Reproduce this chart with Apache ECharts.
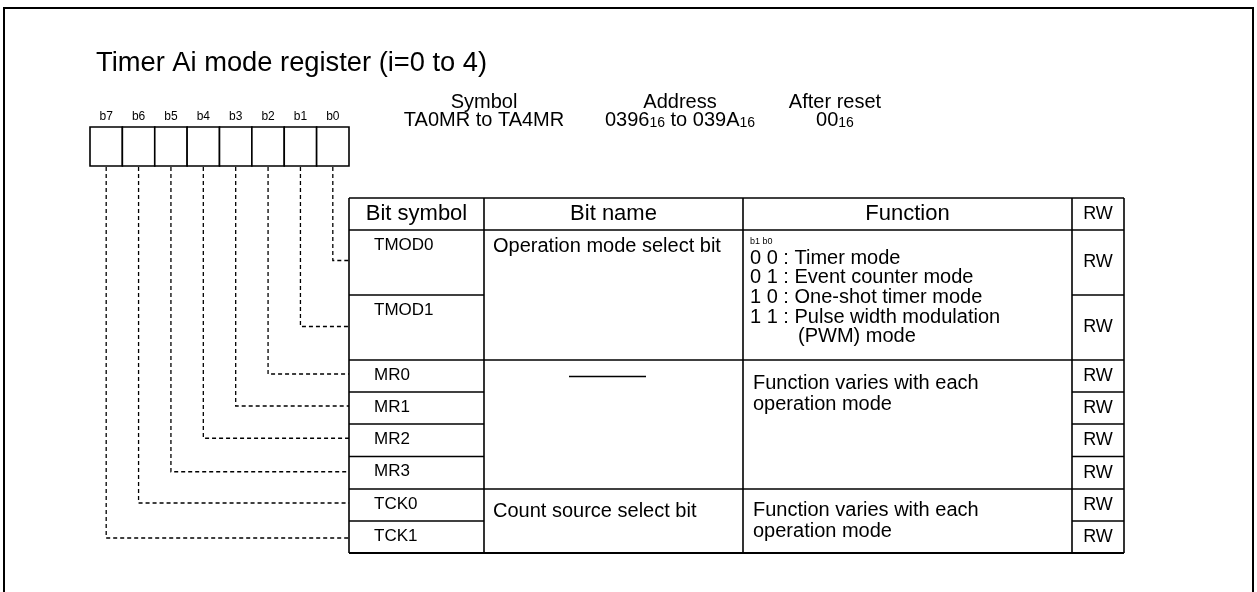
<!DOCTYPE html>
<html><head><meta charset="utf-8">
<script src="https://cdn.jsdelivr.net/npm/echarts@6/dist/echarts.min.js"></script>
<style>html,body{margin:0;padding:0;background:#fff}#c{width:1257px;height:592px}</style>
</head><body><div id="c"></div>
<script>
// ---------- content ----------
const titleText = 'Timer Ai mode register (i=0 to 4)';
const bitLabels = ['b7', 'b6', 'b5', 'b4', 'b3', 'b2', 'b1', 'b0'];
const infoHeaders = ['Symbol', 'Address', 'After reset'];
const infoValues = [
  [['TA0MR to TA4MR', 'n']],
  [['0396', 'n'], ['16', 's'], [' to 039A', 'n'], ['16', 's']],
  [['00', 'n'], ['16', 's']]
];
const headerTexts = ['Bit symbol', 'Bit name', 'Function', 'RW'];
const bitSymbols = ['TMOD0', 'TMOD1', 'MR0', 'MR1', 'MR2', 'MR3', 'TCK0', 'TCK1'];
const rwFlags = ['RW', 'RW', 'RW', 'RW', 'RW', 'RW', 'RW', 'RW'];
const groupSpans = [2, 4, 2];
const bitNames = ['Operation mode select bit', '', 'Count source select bit'];
const functionNote = 'b1 b0';
const functionLines = [
  ['0 0 : Timer mode', '0 1 : Event counter mode', '1 0 : One-shot timer mode', '1 1 : Pulse width modulation', '(PWM) mode'],
  ['Function varies with each', 'operation mode'],
  ['Function varies with each', 'operation mode']
];

// ---------- layout ----------
const FONT = '"Liberation Sans", Arial, sans-serif';
const L = {
  frame: { x: 4, y: 8, w: 1249, h: 640 },
  title: { x: 96, y: 63, size: 27.3 },
  box: { x: 90, y: 127, cw: 32.375, h: 39, labelY: 117, labelSize: 12 },
  info: { cx: [484, 680, 835], y1: 102, y2: 119, size: 20, sub: 14 },
  table: { cols: [349, 484, 743, 1072, 1124], top: 198, headH: 32,
           rowH: [65, 65, 32, 32, 32.5, 32.5, 32, 32] },
  dashTop: 167,
  connOff: [-2, -1, -2, -2, -2, -1, -2, 1],
  symX: 374, symOff: 15, symSize: 17,
  rwSize: 18, headSize: 22, bodySize: 20,
  nameX: 493, nameOff: [16, 0, 22], blankLine: { x1: 569, x2: 646, off: 16.5 },
  funcX: [750, 753, 753], funcOff: [28.3, 23.3, 21.7], funcLH: [19.6, 21.6, 21],
  funcIndent: [0, 0, 0, 0, 48], noteOff: 11.5, noteSize: 9
};

const els = [];
function txt(x, y, text, size, align, extra) {
  els.push(Object.assign({
    type: 'text', x: x, y: y, silent: true,
    style: { text: text, fontSize: size, fontFamily: FONT, fill: '#000',
             align: align || 'left', verticalAlign: 'middle',
             textAlign: align || 'left', textVerticalAlign: 'middle' }
  }, extra || {}));
}
function line(x1, y1, x2, y2, w, dash) {
  els.push({ type: 'line', silent: true, shape: { x1: x1, y1: y1, x2: x2, y2: y2 },
    style: { stroke: '#000', lineWidth: w || 1.5, lineDash: dash || null } });
}

// frame
els.push({ type: 'rect', silent: true, shape: { x: L.frame.x, y: L.frame.y, width: L.frame.w, height: L.frame.h },
  style: { fill: 'none', stroke: '#000', lineWidth: 2 } });

// title
txt(L.title.x, L.title.y, titleText, L.title.size);

// register boxes + labels
const B = L.box;
bitLabels.forEach(function (lab, i) {
  const x = B.x + i * B.cw;
  els.push({ type: 'rect', silent: true, shape: { x: x, y: B.y, width: B.cw, height: B.h },
    style: { fill: '#fff', stroke: '#000', lineWidth: 1.6 } });
  txt(x + B.cw / 2, B.labelY, lab, B.labelSize, 'center');
});

// info block
infoHeaders.forEach(function (h, i) {
  txt(L.info.cx[i], L.info.y1, h, L.info.size, 'center');
  const parts = infoValues[i].map(function (p) { return '{' + p[1] + '|' + p[0] + '}'; }).join('');
  els.push({ type: 'text', silent: true, x: L.info.cx[i], y: L.info.y2,
    style: { text: parts, fontFamily: FONT, fill: '#000', align: 'center', verticalAlign: 'middle',
      textAlign: 'center', textVerticalAlign: 'middle',
      rich: { n: { fontSize: L.info.size, fontFamily: FONT, verticalAlign: 'bottom', lineHeight: 22 },
              s: { fontSize: L.info.sub, fontFamily: FONT, verticalAlign: 'bottom', lineHeight: 20 } } } });
});

// table geometry
const T = L.table, C = T.cols;
const rowTop = [];
let yy = T.top + T.headH;
T.rowH.forEach(function (h) { rowTop.push(yy); yy += h; });
const bottom = yy;

// header
headerTexts.forEach(function (h, i) {
  txt((C[i] + C[i + 1]) / 2, T.top + T.headH / 2, h, i === 3 ? L.rwSize : L.headSize, 'center');
});
// outer border + header line + column lines
line(C[0], T.top, C[4], T.top, 1.6);
line(C[0], T.top + T.headH, C[4], T.top + T.headH, 1.6);
line(C[0], bottom, C[4], bottom, 1.8);
C.forEach(function (x) { line(x, T.top, x, bottom, 1.6); });

// rows: bit symbol + RW
bitSymbols.forEach(function (s, r) {
  const top = rowTop[r], h = T.rowH[r];
  txt(L.symX, top + L.symOff, s, L.symSize, 'left');
  txt((C[3] + C[4]) / 2, top + h / 2, rwFlags[r], L.rwSize, 'center');
  if (r > 0) { line(C[0], top, C[1], top, 1.5); line(C[3], top, C[4], top, 1.5); }
});

// groups: bit name + function
let gr = 0;
groupSpans.forEach(function (span, g) {
  const gTop = rowTop[gr];
  if (g > 0) line(C[1], gTop, C[3], gTop, 1.6);
  if (bitNames[g]) txt(L.nameX, gTop + L.nameOff[g], bitNames[g], L.bodySize, 'left');
  else line(L.blankLine.x1, gTop + L.blankLine.off, L.blankLine.x2, gTop + L.blankLine.off, 1.5);
  if (g === 0) txt(L.funcX[g], gTop + L.noteOff, functionNote, L.noteSize, 'left');
  functionLines[g].forEach(function (t, k) {
    const ind = g === 0 ? L.funcIndent[k] : 0;
    txt(L.funcX[g] + ind, gTop + L.funcOff[g] + k * L.funcLH[g], t, L.bodySize, 'left');
  });
  gr += span;
});

// dashed connectors: bit i (b7..b0) -> row (7 - i)
bitLabels.forEach(function (lab, i) {
  const x = B.x + i * B.cw + B.cw / 2;
  const r = bitLabels.length - 1 - i;
  const cy = rowTop[r] + T.rowH[r] / 2 + L.connOff[r];
  els.push({ type: 'polyline', silent: true, shape: { points: [[x, L.dashTop], [x, cy], [C[0], cy]] },
    style: { stroke: '#000', lineWidth: 1.3, lineDash: [4, 3], fill: null } });
});

const chart = echarts.init(document.getElementById('c'), null, { renderer: 'canvas' });
chart.setOption({ backgroundColor: '#fff', animation: false, graphic: { elements: els } });
</script></body></html>
